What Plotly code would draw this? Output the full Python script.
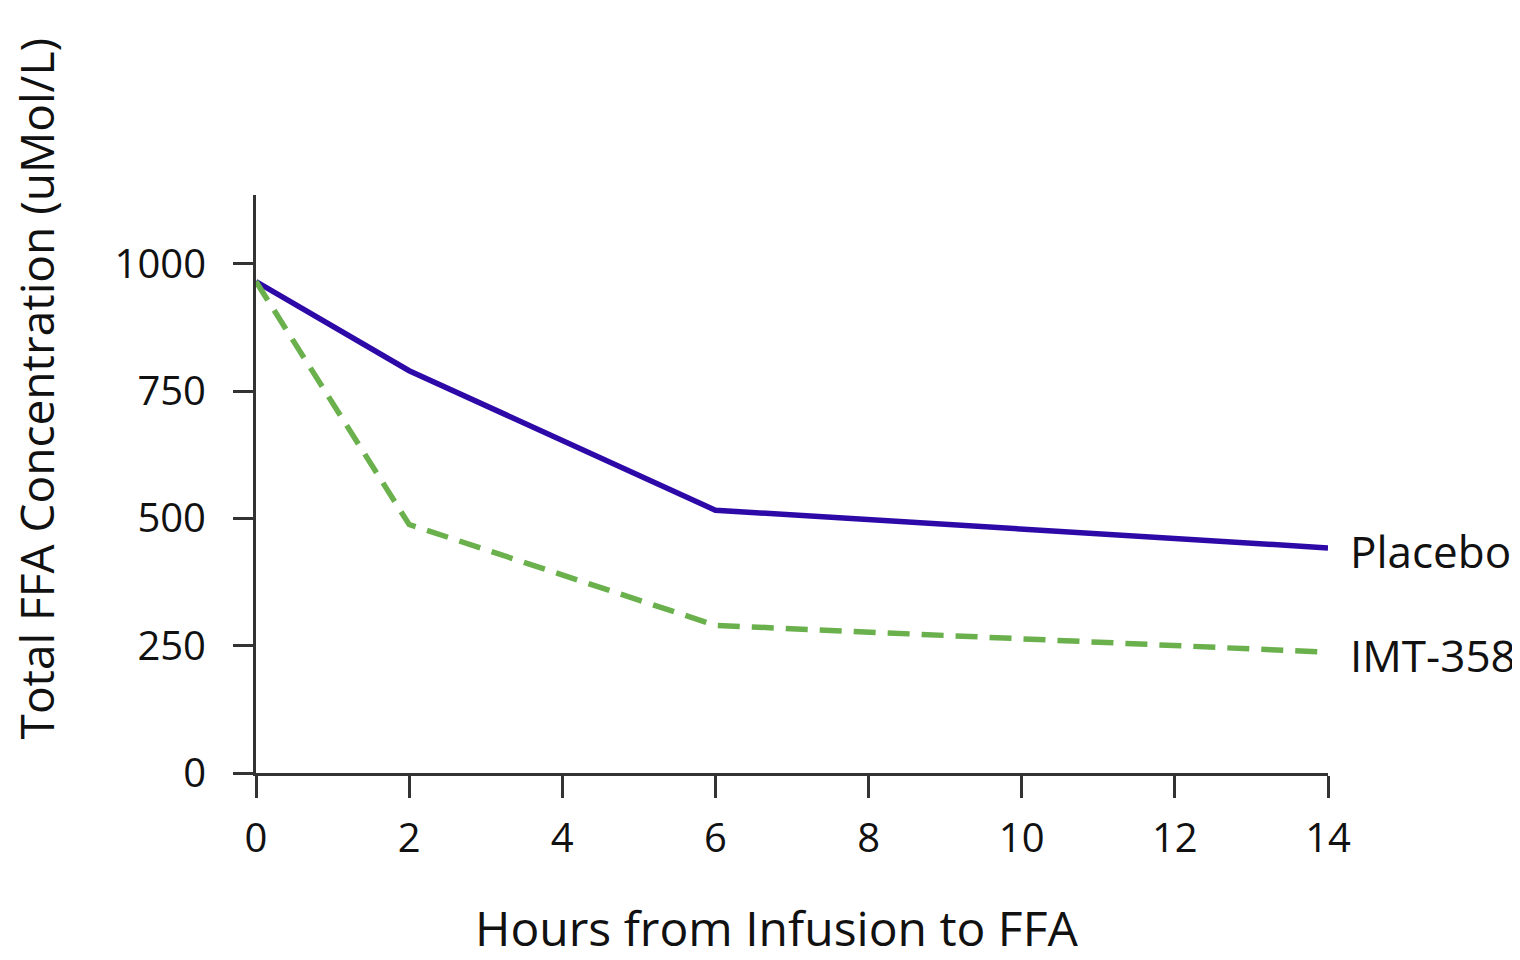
import plotly.graph_objects as go

hours = [0, 2, 6, 14]
placebo = [965, 790, 516, 442]
imt358 = [965, 488, 290, 237]
series_names = ["Placebo", "IMT-358"]

FONT = "Open Sans"

fig = go.Figure()
fig.add_trace(go.Scatter(
    x=hours, y=placebo, mode="lines", name=series_names[0],
    line=dict(color="#2d0aa8", width=5.5),
))
fig.add_trace(go.Scatter(
    x=hours, y=imt358, mode="lines", name=series_names[1],
    line=dict(color="#6ab04c", width=5.5, dash="22px,12px"),
))

# series labels at the line ends
for name, ys in zip(series_names, [placebo, imt358]):
    fig.add_annotation(
        x=hours[-1], y=ys[-1], text=name, showarrow=False,
        xanchor="left", yanchor="middle", xshift=20, yshift=-3,
        font=dict(family=FONT, size=44, color="#111"),
    )

# axis titles as annotations (the y title sits above the plot centre)
fig.add_annotation(
    text="Total FFA Concentration (uMol/L)", xref="paper", yref="paper",
    x=-0.205, y=0.664, textangle=-90, showarrow=False,
    xanchor="center", yanchor="middle",
    font=dict(family=FONT, size=46, color="#111"),
)
fig.add_annotation(
    text="Hours from Infusion to FFA", xref="paper", yref="paper",
    x=0.486, y=-0.268, showarrow=False,
    xanchor="center", yanchor="middle",
    font=dict(family=FONT, size=48, color="#111"),
)

fig.update_layout(
    width=1520, height=960,
    margin=dict(l=248, r=200, t=187, b=195),
    paper_bgcolor="white", plot_bgcolor="white",
    showlegend=False,
    font=dict(family=FONT, size=40, color="#111"),
    xaxis=dict(
        range=[0, 14], tickvals=[0, 2, 4, 6, 8, 10, 12, 14],
        showline=True, linecolor="#333", linewidth=3,
        ticks="outside", ticklen=22, tickwidth=3, tickcolor="#333",
        ticklabelstandoff=6,
        showgrid=False, zeroline=False, automargin=False,
    ),
    yaxis=dict(
        range=[0, 1135], tickvals=[0, 250, 500, 750, 1000],
        showline=True, linecolor="#333", linewidth=3,
        ticks="outside", ticklen=20, tickwidth=3, tickcolor="#333",
        ticklabelstandoff=19,
        showgrid=False, zeroline=False, automargin=False,
    ),
)

fig.write_html("out.html")
